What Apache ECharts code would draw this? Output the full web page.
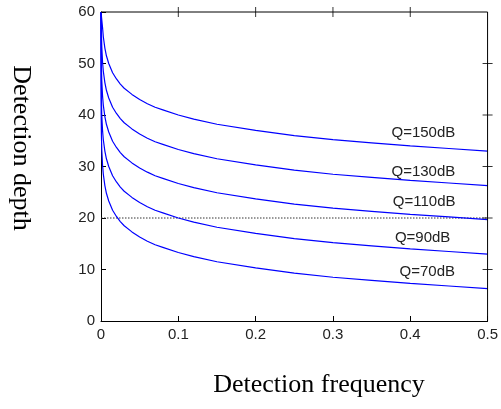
<!DOCTYPE html>
<html>
<head>
<meta charset="utf-8">
<script src="https://cdn.jsdelivr.net/npm/echarts@6/dist/echarts.min.js"></script>
<style>html,body{margin:0;padding:0;background:#fff;}#c{width:501px;height:409px;}</style>
</head>
<body>
<div id="c"></div>
<script>
// Detection frequency (x) sample points
const freq = [0.00001, 0.0002, 0.0005, 0.001, 0.002, 0.003, 0.005, 0.007, 0.01, 0.015, 0.02, 0.025, 0.03, 0.04, 0.05, 0.06, 0.07, 0.08, 0.1, 0.12, 0.15, 0.2, 0.25, 0.3, 0.35, 0.4, 0.45, 0.5];
// Detection depth for each Q
const q150 = [60, 60, 60, 60, 57.0, 55.2, 53.0, 51.5, 50.0, 48.2, 47.0, 46.0, 45.2, 44.0, 43.0, 42.2, 41.5, 41.0, 40.0, 39.2, 38.2, 37.0, 36.0, 35.2, 34.6, 34.0, 33.5, 33.0];
const q130 = [60, 60, 56.3, 53.3, 50.3, 48.5, 46.3, 44.8, 43.3, 41.5, 40.3, 39.3, 38.5, 37.3, 36.3, 35.5, 34.8, 34.3, 33.3, 32.5, 31.5, 30.3, 29.3, 28.5, 27.9, 27.3, 26.8, 26.3];
const q110 = [60, 53.7, 49.7, 46.7, 43.7, 41.9, 39.7, 38.2, 36.7, 34.9, 33.7, 32.7, 31.9, 30.7, 29.7, 28.9, 28.2, 27.7, 26.7, 25.9, 24.9, 23.7, 22.7, 21.9, 21.3, 20.7, 20.2, 19.7];
const q90  = [60, 47.0, 43.0, 40.0, 37.0, 35.2, 33.0, 31.5, 30.0, 28.2, 27.0, 26.0, 25.2, 24.0, 23.0, 22.2, 21.5, 21.0, 20.0, 19.2, 18.2, 17.0, 16.0, 15.2, 14.6, 14.0, 13.5, 13.0];
const q70  = [60, 40.3, 36.3, 33.3, 30.3, 28.5, 26.3, 24.8, 23.3, 21.5, 20.3, 19.3, 18.5, 17.3, 16.3, 15.5, 14.8, 14.3, 13.3, 12.5, 11.5, 10.3, 9.3, 8.5, 7.9, 7.3, 6.8, 6.3];
const seriesNames = ['Q=150dB', 'Q=130dB', 'Q=110dB', 'Q=90dB', 'Q=70dB'];
const labelX = [0.417, 0.417, 0.418, 0.416, 0.422];
const labelY = [36.5, 28.9, 23.1, 16.1, 9.5];
const refDepth = 20;
const xTicks = [0, 0.1, 0.2, 0.3, 0.4, 0.5];
const yTicks = [0, 10, 20, 30, 40, 50, 60];

const allValues = [q150, q130, q110, q90, q70];
const chart = echarts.init(document.getElementById('c'));
const xMin = xTicks[0], xMax = xTicks[xTicks.length - 1];
const yMin = yTicks[0], yMax = yTicks[yTicks.length - 1];

const lineSeries = allValues.map((vals, i) => ({
  name: seriesNames[i],
  type: 'line',
  xAxisIndex: 0, yAxisIndex: 0,
  data: freq.map((f, j) => [f, vals[j]]),
  showSymbol: false,
  smooth: false,
  clip: true,
  lineStyle: {color: '#0000ff', width: 1.2},
  itemStyle: {color: '#0000ff'},
  markPoint: {
    symbol: 'circle', symbolSize: 0,
    data: [{coord: [labelX[i], labelY[i]], value: seriesNames[i]}],
    label: {show: true, formatter: seriesNames[i], color: '#222', fontFamily: 'Liberation Sans, Arial, sans-serif', fontSize: 15, position: 'inside'}
  },
  z: 3
}));

const refSeries = {
  type: 'line',
  xAxisIndex: 0, yAxisIndex: 0,
  data: [[xMin, refDepth], [xMax, refDepth]],
  showSymbol: false,
  lineStyle: {color: '#333', width: 1, type: [1.5, 1.5]},
  z: 2,
  silent: true
};

// box edges (top and right) drawn through the axes' scales
const frameSeries = {
  type: 'line',
  xAxisIndex: 0, yAxisIndex: 0,
  data: [[xMin, yMax], [xMax, yMax], [xMax, yMin]],
  showSymbol: false,
  clip: false,
  lineStyle: {color: '#000', width: 1},
  z: 4,
  silent: true
};

// inward tick marks on top and right edges, positioned via the axes' scales
const topTicks = {
  type: 'scatter', xAxisIndex: 0, yAxisIndex: 0,
  data: xTicks.slice(1, -1).map(v => [v, yMax]),
  symbol: 'rect', symbolSize: [1, 10], itemStyle: {color: '#000'},
  clip: true, silent: true, z: 4
};
const rightTicks = {
  type: 'scatter', xAxisIndex: 0, yAxisIndex: 0,
  data: yTicks.slice(1, -1).map(v => [xMax, v]),
  symbol: 'rect', symbolSize: [10, 1], itemStyle: {color: '#000'},
  clip: true, silent: true, z: 4
};

const labelFont = {color: '#222', fontFamily: 'Liberation Sans, Arial, sans-serif', fontSize: 15, margin: 6};

chart.setOption({
  animation: false,
  grid: {left: 101, right: 11, top: 12, bottom: 88, containLabel: false},
  xAxis: {
    type: 'value', min: xMin, max: xMax, interval: 0.1, position: 'bottom',
    axisLine: {show: true, onZero: false, lineStyle: {color: '#000', width: 1}},
    axisTick: {show: true, inside: true, length: 5, lineStyle: {color: '#000', width: 1}},
    splitLine: {show: false},
    axisLabel: Object.assign({formatter: v => (v === 0 ? '0' : v.toFixed(1))}, labelFont)
  },
  yAxis: {
    type: 'value', min: yMin, max: yMax, interval: 10, position: 'left',
    axisLine: {show: true, onZero: false, lineStyle: {color: '#000', width: 1}},
    axisTick: {show: true, inside: true, length: 5, lineStyle: {color: '#000', width: 1}},
    splitLine: {show: false},
    axisLabel: Object.assign({}, labelFont)
  },
  series: [refSeries].concat(lineSeries, [frameSeries, topTicks, rightTicks]),
  graphic: [
    {type: 'text', style: {text: 'Detection depth', font: '26px "Liberation Serif", "Times New Roman", serif', fill: '#000', textAlign: 'center', textVerticalAlign: 'middle'},
     x: 21, y: 148, rotation: -Math.PI / 2},
    {type: 'text', style: {text: 'Detection frequency', font: '26px "Liberation Serif", "Times New Roman", serif', fill: '#000', textAlign: 'center', textVerticalAlign: 'middle'},
     x: 319, y: 385}
  ]
});
</script>
</body>
</html>
